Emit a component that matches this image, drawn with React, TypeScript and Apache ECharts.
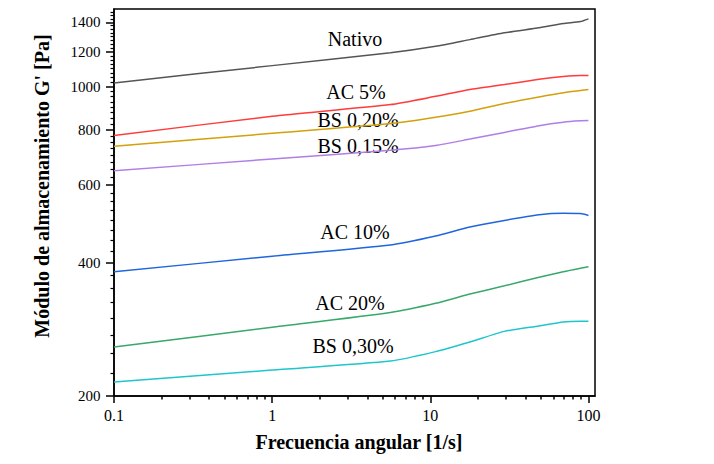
import React, { useEffect, useRef } from "react";
import * as echarts from "echarts";

// Angular frequency [1/s]
const freq = [0.1, 1, 5.6, 10.8, 17.8, 29.4, 48.7, 69.3, 89, 100];

// Storage modulus G' [Pa]
const nativo = [1021, 1117, 1194, 1235, 1279, 1325, 1360, 1391, 1405, 1425];
const ac5 = [776, 858, 912, 952, 986, 1012, 1040, 1055, 1061, 1061];
const bs020 = [734, 785, 826, 854, 881, 917, 949, 970, 981, 986];
const bs015 = [646, 687, 719, 737, 762, 789, 817, 832, 838, 839];
const ac10 = [382, 414, 439, 460, 482, 499, 514, 518, 517, 512];
const ac20 = [258, 286, 309, 324, 340, 355, 371, 382, 389, 392];
const bs030 = [215, 229, 240, 252, 265, 280, 288, 294, 295, 295];

const seriesNames = ["Nativo", "AC 5%", "BS 0,20%", "BS 0,15%", "AC 10%", "AC 20%", "BS 0,30%"];
const seriesValues = [nativo, ac5, bs020, bs015, ac10, ac20, bs030];
const seriesColors = ["#555555", "#ff3b3b", "#d4a00a", "#b07ee6", "#1f66dd", "#38a86a", "#1ec6cc"];

const xMajorTicks = [0.1, 1, 10, 100];
const xTickLabels = ["0.1", "1", "10", "100"];
const xMinorTicks = [
  0.2, 0.3, 0.4, 0.5, 0.6, 0.7, 0.8, 0.9,
  2, 3, 4, 5, 6, 7, 8, 9,
  20, 30, 40, 50, 60, 70, 80, 90,
];
const yMajorTicks = [200, 400, 600, 800, 1000, 1200, 1400];
const yTickLabels = ["200", "400", "600", "800", "1000", "1200", "1400"];
const yMinorTicks: number[] = [];
for (let v = 225; v < 1500; v += 25) {
  if (v % 200 !== 0) yMinorTicks.push(v);
}

// label annotations [text, x px, y px]
const annotations: [string, number, number][] = [
  ["Nativo", 355, 39],
  ["AC 5%", 356, 92],
  ["BS 0,20%", 358, 120],
  ["BS 0,15%", 358, 146],
  ["AC 10%", 355, 232],
  ["AC 20%", 350, 303],
  ["BS 0,30%", 353, 346],
];

const FONT = "'Liberation Serif', serif";

function textEl(text: string, x: number, y: number, font: string, align: string, vAlign: string, extra: any = {}) {
  return {
    type: "text",
    x,
    y,
    silent: true,
    ...extra,
    style: {
      text,
      font,
      fill: "#000",
      align,
      verticalAlign: vAlign,
      textAlign: align,
      textVerticalAlign: vAlign,
    },
  };
}

export default function App() {
  const ref = useRef<HTMLDivElement>(null);

  useEffect(() => {
    document.body.style.margin = "0";
    if (!ref.current) return;
    const chart = echarts.init(ref.current, undefined, { renderer: "svg" });

    const grid = { left: 114, right: 119, top: 9, bottom: 68 };

    const baseGraphics = [
      ...annotations.map(([t, x, y]) => textEl(t, x, y, `20px ${FONT}`, "center", "middle")),
      textEl("Frecuencia angular [1/s]", 359, 442, `bold 20px ${FONT}`, "center", "middle"),
      textEl("Módulo de almacenamiento G' [Pa]", 42, 186, `bold 20px ${FONT}`, "center", "middle", {
        rotation: Math.PI / 2,
      }),
    ];

    const option: any = {
      animation: false,
      grid: {
        ...grid,
        show: true,
        borderColor: "#000",
        borderWidth: 1.5,
        backgroundColor: "transparent",
      },
      xAxis: [
        {
          type: "log",
          logBase: 10,
          min: 0.1,
          max: 110,
          position: "bottom",
          axisLine: { show: true, lineStyle: { color: "#000", width: 1.5 } },
          axisTick: {
            show: true,
            inside: false,
            length: 7,
            customValues: xMajorTicks,
            lineStyle: { color: "#000", width: 1.5 },
          },
          axisLabel: { show: false },
          splitLine: { show: false },
        },
        {
          type: "log",
          logBase: 10,
          min: 0.1,
          max: 110,
          position: "bottom",
          axisLine: { show: false },
          axisTick: {
            show: true,
            inside: false,
            length: 3.5,
            customValues: xMinorTicks,
            lineStyle: { color: "#000", width: 1.5 },
          },
          axisLabel: { show: false },
          splitLine: { show: false },
        },
      ],
      yAxis: [
        {
          type: "log",
          logBase: 10,
          min: 200,
          max: 1500,
          position: "left",
          axisLine: { show: true, lineStyle: { color: "#000", width: 1.5 } },
          axisTick: {
            show: true,
            inside: false,
            length: 8,
            customValues: yMajorTicks,
            lineStyle: { color: "#000", width: 1.5 },
          },
          axisLabel: { show: false },
          splitLine: { show: false },
        },
        {
          type: "log",
          logBase: 10,
          min: 200,
          max: 1500,
          position: "left",
          axisLine: { show: false },
          axisTick: {
            show: true,
            inside: false,
            length: 3.5,
            customValues: yMinorTicks,
            lineStyle: { color: "#000", width: 1.2 },
          },
          axisLabel: { show: false },
          splitLine: { show: false },
        },
      ],
      series: seriesValues.map((vals, i) => ({
        name: seriesNames[i],
        type: "line",
        xAxisIndex: 0,
        yAxisIndex: 0,
        data: freq.map((f, j) => [f, vals[j]]),
        showSymbol: false,
        symbol: "none",
        smooth: 0.2,
        lineStyle: { color: seriesColors[i], width: 1.5 },
        itemStyle: { color: seriesColors[i] },
        z: 3,
      })),
      graphic: baseGraphics,
    };

    chart.setOption(option);

    // tick labels placed through the axes' own scales
    const axisBottom = chart.convertToPixel({ yAxisIndex: 0 }, yMajorTicks[0]) as number;
    const axisLeft = chart.convertToPixel({ xAxisIndex: 0 }, xMajorTicks[0]) as number;
    const tickLabelGraphics = [
      ...xMajorTicks.map((v, i) => {
        const px = chart.convertToPixel({ xAxisIndex: 0 }, v) as number;
        return textEl(xTickLabels[i], px, axisBottom + 11.5, `16px ${FONT}`, "center", "top");
      }),
      ...yMajorTicks.map((v, i) => {
        const py = chart.convertToPixel({ yAxisIndex: 0 }, v) as number;
        return textEl(yTickLabels[i], axisLeft - 13.5, py, `15px ${FONT}`, "right", "middle");
      }),
    ];
    chart.setOption({ graphic: [...baseGraphics, ...tickLabelGraphics] });

    return () => chart.dispose();
  }, []);

  return <div ref={ref} style={{ width: 714, height: 464 }} />;
}
